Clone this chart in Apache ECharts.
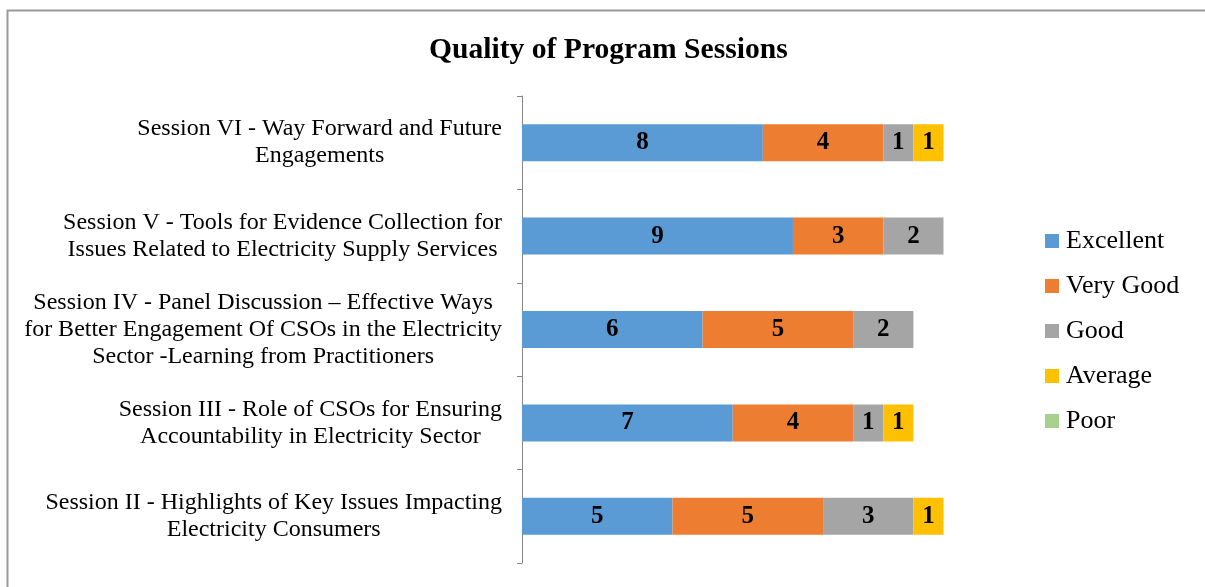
<!DOCTYPE html>
<html>
<head>
<meta charset="utf-8">
<script src="https://cdn.jsdelivr.net/npm/echarts@6/dist/echarts.min.js"></script>
<style>
html,body{margin:0;padding:0;background:#fff;}
#chart{width:1205px;height:587px;}
</style>
</head>
<body>
<div id="chart"></div>
<script>
const categories = [
  'Session II - Highlights of Key Issues Impacting\nElectricity Consumers',
  'Session III - Role of CSOs for Ensuring\nAccountability in Electricity Sector',
  'Session IV - Panel Discussion – Effective Ways\nfor Better Engagement Of CSOs in the Electricity\nSector -Learning from Practitioners',
  'Session V - Tools for Evidence Collection for\nIssues Related to Electricity Supply Services',
  'Session VI - Way Forward and Future\nEngagements'
];
const seriesNames = ['Excellent', 'Very Good', 'Good', 'Average', 'Poor'];
const excellent = [5, 7, 6, 9, 8];
const veryGood = [5, 4, 5, 3, 4];
const good = [3, 1, 2, 2, 1];
const average = [1, 1, 0, 0, 1];
const poor = [0, 0, 0, 0, 0];
const colors = ['#5B9BD5', '#ED7D31', '#A5A5A5', '#FFC000', '#A9D18E'];

const FONT = '"Liberation Serif", "Times New Roman", serif';
const values = [excellent, veryGood, good, average, poor];

const chart = echarts.init(document.getElementById('chart'), null, {renderer: 'canvas'});

const series = seriesNames.map((name, i) => ({
  name: name,
  type: 'bar',
  stack: 'total',
  barWidth: 37,
  data: values[i],
  itemStyle: {color: colors[i]},
  label: {
    show: true,
    position: 'inside',
    color: '#000',
    fontFamily: FONT,
    fontWeight: 'bold',
    fontSize: 25,
    formatter: p => (p.value ? String(p.value) : '')
  },
  emphasis: {disabled: true}
}));

const option = {
  animation: false,
  backgroundColor: '#fff',
  title: {
    text: 'Quality of Program Sessions',
    left: 429,
    top: 35,
    padding: 0,
    textStyle: {fontFamily: FONT, fontWeight: 'bold', fontSize: 29.6, color: '#000'}
  },
  legend: {
    orient: 'vertical',
    left: 1045,
    top: 228,
    padding: 0,
    itemWidth: 14,
    itemHeight: 14,
    itemGap: 19,
    icon: 'rect',
    data: seriesNames,
    textStyle: {fontFamily: FONT, fontSize: 26, color: '#000', padding: [0, 0, 0, 2]}
  },
  grid: {left: 522, top: 96, width: 421.5, height: 467, containLabel: false},
  xAxis: {
    type: 'value', min: 0, max: 14, show: false
  },
  yAxis: {
    type: 'category',
    data: categories,
    axisLine: {show: true, lineStyle: {color: '#868686', width: 1}},
    axisTick: {show: true, length: 5, lineStyle: {color: '#868686'}},
    axisLabel: {
      margin: 20,
      align: 'right',
      formatter: v => v.split('\n').map(l => '{c|' + l + '}').join('\n'),
      rich: {
        c: {align: 'center', fontFamily: FONT, fontSize: 24, color: '#000', lineHeight: 27}
      }
    }
  },
  graphic: [{
    type: 'rect',
    left: 5, top: 8,
    shape: {width: 1400, height: 800},
    style: {fill: 'none', stroke: '#999', lineWidth: 2},
    silent: true
  }],
  series: series
};
chart.setOption(option);
</script>
</body>
</html>
